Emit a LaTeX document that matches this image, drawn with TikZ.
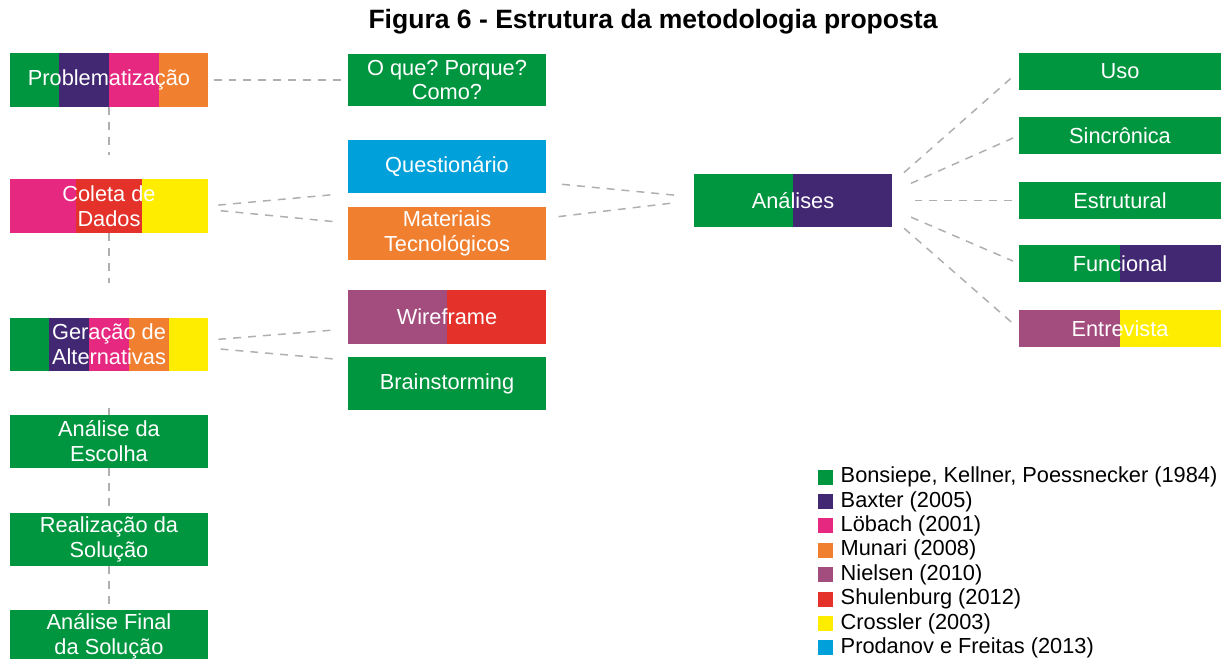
\documentclass[tikz,border=0pt]{standalone}
\usepackage{fontspec}
\setmainfont{Liberation Sans}
\frenchspacing
\usetikzlibrary{calc, positioning, backgrounds}

\definecolor{cgreen}{RGB}{0,150,64}
\definecolor{cpurple}{RGB}{66,40,115}
\definecolor{cpink}{RGB}{230,40,128}
\definecolor{corange}{RGB}{240,128,48}
\definecolor{cnielsen}{RGB}{163,76,126}
\definecolor{cred}{RGB}{228,50,43}
\definecolor{cyellow}{RGB}{255,237,0}
\definecolor{cblue}{RGB}{0,160,218}
\definecolor{cline}{RGB}{175,175,175}

\tikzstyle{box}=[rectangle, inner sep=0pt, minimum width=3.96cm, minimum height=1.06cm, text=white, align=center, font=\fontsize{12.4}{14.2}\selectfont]
\tikzstyle{tag}=[box, minimum width=4.04cm, minimum height=0.74cm]
\tikzstyle{link}=[draw=cline, line width=0.85pt, dash pattern=on 4.5pt off 4pt]

\newcommand{\stripes}[3]{%
  \begin{pgfonlayer}{background}
  \foreach \c [count=\i, evaluate=\i as \a using (\i-1)/#2, evaluate=\i as \b using \i/#2] in {#3}
    \fill[\c] ($(#1.north west)!\a!(#1.north east)$) rectangle ($(#1.south west)!\b!(#1.south east)$);
  \end{pgfonlayer}}

\begin{document}
\begin{tikzpicture}[x=0.02cm, y=-0.02cm]
    \useasboundingbox (0,0) rectangle (1232,659);
    \node [font=\bfseries\fontsize{15.1}{18}\selectfont] (title) at (653,22) {Figura 6 - Estrutura da metodologia proposta};

    \node [box] (prob) at (109,80) {Problematização};
    \node [box] (coleta) at (109,206) {Coleta de\\Dados};
    \node [box] (geracao) at (109,344.5) {Geração de\\Alternativas};
    \node [box, fill=cgreen] (esc) at (109,441.5) {Análise da\\Escolha};
    \node [box, fill=cgreen] (real) at (109,539.5) {Realização da\\Solução};
    \node [box, fill=cgreen] (final) at (109,636.5) {Análise Final\\da Solução};

    \node [box, fill=cgreen] (oque) at (447,80) {O que? Porque?\\Como?};
    \node [box, fill=cblue] (quest) at (447,166.5) {Questionário};
    \node [box, fill=corange] (mat) at (447,233.5) {Materiais\\Tecnológicos};
    \node [box] (wire) at (447,317) {Wireframe};
    \node [box, fill=cgreen] (brain) at (447,383.5) {Brainstorming};

    \node [box] (ana) at (793,200.5) {Análises};

    \node [tag, fill=cgreen] (uso) at (1120,71.5) {Uso};
    \node [tag, fill=cgreen] (sinc) at (1120,135.5) {Sincrônica};
    \node [tag, fill=cgreen] (estr) at (1120,200.5) {Estrutural};
    \node [tag] (func) at (1120,263.5) {Funcional};
    \node [tag] (entr) at (1120,328.5) {Entrevista};

    \stripes{prob}{4}{cgreen,cpurple,cpink,corange}
    \stripes{coleta}{3}{cpink,cred,cyellow}
    \stripes{geracao}{5}{cgreen,cpurple,cpink,corange,cyellow}
    \stripes{wire}{2}{cnielsen,cred}
    \stripes{ana}{2}{cgreen,cpurple}
    \stripes{func}{2}{cgreen,cpurple}
    \stripes{entr}{2}{cnielsen,cyellow}

    \path (prob) edge[link, shorten >=14pt] (coleta);
    \path (coleta) edge[link, shorten >=20pt] (geracao);
    \path (geracao) edge[link, shorten <=21pt] (esc);
    \path (esc) edge[link] (real);
    \path (real) edge[link, shorten >=1.5pt] (final);

    \path (prob) edge[link, shorten <=3pt, shorten >=3.5pt] (oque);
    \path (coleta.east) edge[link, shorten <=5.7pt, shorten >=8.5pt] (quest.south west);
    \path ([yshift=-2pt]coleta.east) edge[link, shorten <=7pt, shorten >=5.7pt] ([yshift=6pt]mat.west);
    \path ([yshift=2.5pt]geracao.east) edge[link, shorten <=5.7pt, shorten >=8.5pt] ([yshift=8.5pt]wire.south west);
    \path ([yshift=-2pt]geracao.east) edge[link, shorten <=7pt, shorten >=5.7pt] ([yshift=-2pt]brain.north west);
    \path ([yshift=6pt]quest.south east) edge[link, shorten <=9pt, shorten >=9.6pt] ([yshift=2pt]ana.west);
    \path ([yshift=-6.5pt]mat.north east) edge[link, shorten <=7pt, shorten >=11pt] (ana.west);

    \coordinate (hub) at ($(ana.east)+(-20,0)$);
    \foreach \t in {uso,sinc,estr,func,entr}
        \path (hub) edge[link, shorten <=24pt, shorten >=3.5pt] (\t.west);

    \foreach \c/\t [count=\i] in {cgreen/{Bonsiepe, Kellner, Poessnecker (1984)}, cpurple/Baxter (2005), cpink/Löbach (2001), corange/Munari (2008), cnielsen/Nielsen (2010), cred/Shulenburg (2012), cyellow/Crossler (2003), cblue/Prodanov e Freitas (2013)} {
        \node [fill=\c, minimum size=0.3cm, inner sep=0pt] (sq\i) at (825.5, {452.6+24.4*\i}) {};
        \node [right=4pt of sq\i, inner sep=0pt, font=\fontsize{12.4}{14.2}\selectfont] (leg\i) {\t};
    }
\end{tikzpicture}
\end{document}
